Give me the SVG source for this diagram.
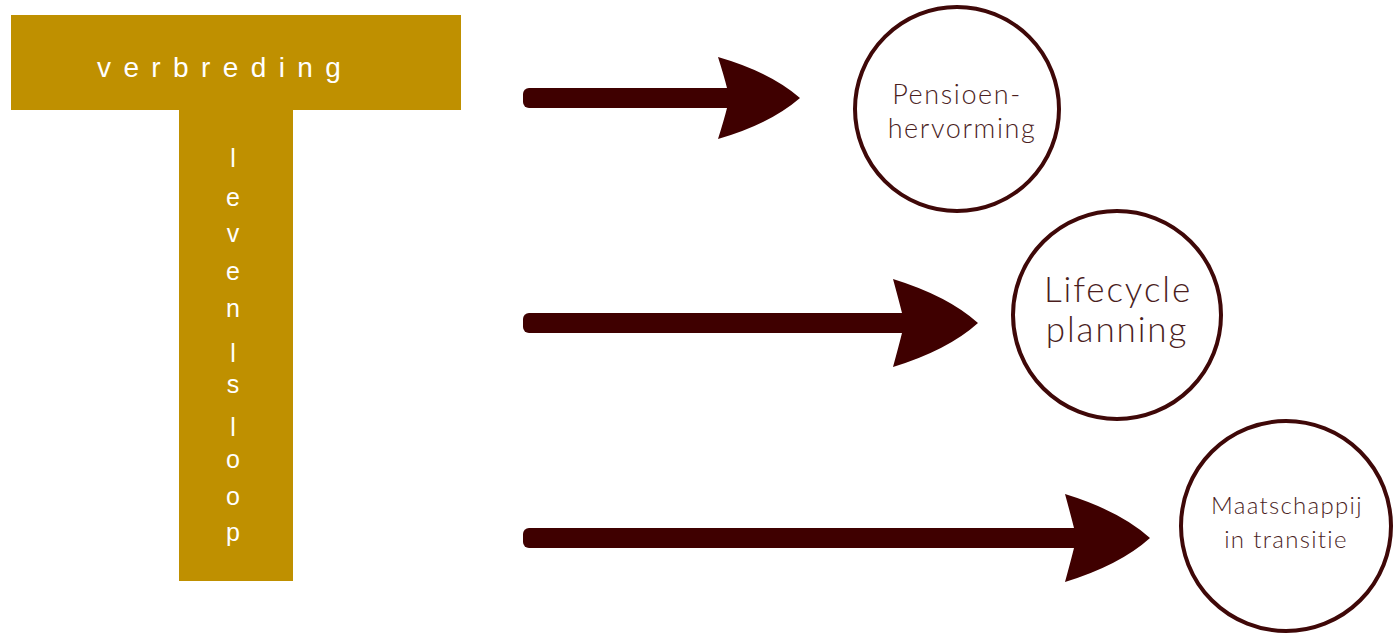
<svg xmlns="http://www.w3.org/2000/svg" width="1395" height="634" viewBox="0 0 1395 634">
<style>
.t{fill:#bf9000}
.tl{fill:#ffffff;font-family:"Liberation Sans",Arial,sans-serif}
.ar{fill:#3f0000}
.c{fill:#ffffff;stroke:#3f0808;stroke-width:4}
.ct{fill:#4b1e1e;font-family:Lato,"Open Sans",sans-serif;font-weight:300;text-anchor:middle}
</style>
<rect width="1395" height="634" fill="#ffffff"/>
<g id="T">
<rect class="t" x="11" y="15" width="450" height="95"/>
<rect class="t" x="179" y="109" width="114" height="472"/>
<text class="tl" x="97" y="77" font-size="28" letter-spacing="12.4">verbreding</text>
<g class="tl" font-size="25" text-anchor="middle">
<text x="233" y="167">l</text>
<text x="233" y="206">e</text>
<text x="233" y="242">v</text>
<text x="233" y="280">e</text>
<text x="233" y="317">n</text>
<text x="233" y="362">l</text>
<text x="233" y="393">s</text>
<text x="233" y="436">l</text>
<text x="233" y="468">o</text>
<text x="233" y="505">o</text>
<text x="233" y="541">p</text>
</g>
</g>
<g id="connectors">
<rect class="ar" x="523" y="88" width="222" height="20" rx="6"/>
<path class="ar" d="M718,57 Q770,72 800,98 Q770,124 718,139 Q724,120 727,108 L727,88 Q724,76 718,57 Z"/>
<rect class="ar" x="523" y="313" width="397" height="20" rx="6"/>
<path class="ar" d="M893,279 Q948,296 978,323 Q948,350 893,367 Q899,345 902,333 L902,313 Q899,301 893,279 Z"/>
<rect class="ar" x="523" y="528" width="569" height="20" rx="6"/>
<path class="ar" d="M1065,494 Q1120,511 1150,538 Q1120,565 1065,582 Q1071,560 1074,548 L1074,528 Q1071,516 1065,494 Z"/>
</g>
<g id="pensioen">
<circle class="c" cx="957" cy="109" r="102"/>
<text class="ct" font-size="27" letter-spacing="1.6"><tspan x="957" y="104">Pensioen-</tspan><tspan x="962" y="138">hervorming</tspan></text>
</g>
<g id="lifecycle">
<circle class="c" cx="1117" cy="315" r="104"/>
<text class="ct" font-size="35" letter-spacing="1.9"><tspan x="1118" y="302">Lifecycle</tspan><tspan x="1117" y="342">planning</tspan></text>
</g>
<g id="maatschappij">
<circle class="c" cx="1286" cy="526" r="105"/>
<text class="ct" font-size="24" letter-spacing="1.3"><tspan x="1287" y="514">Maatschappij</tspan><tspan x="1286" y="548">in transitie</tspan></text>
</g>
</svg>
